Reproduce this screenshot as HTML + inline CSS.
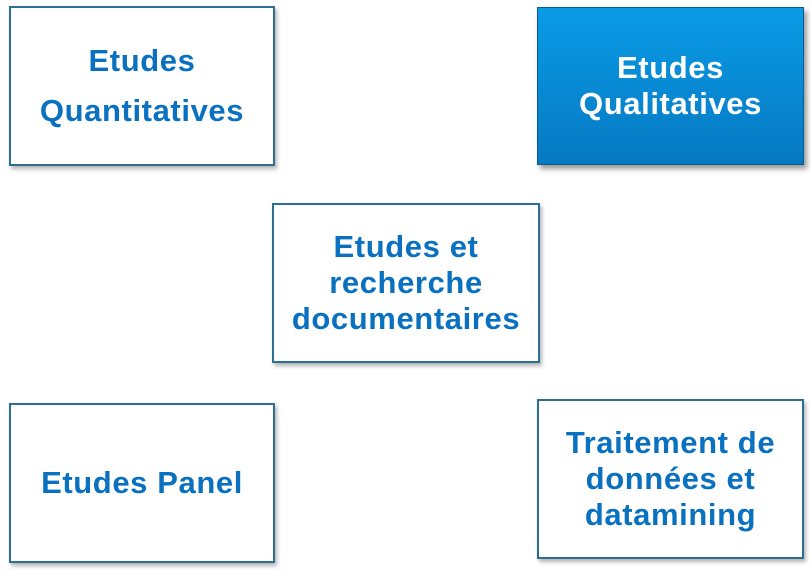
<!DOCTYPE html>
<html><head><style>
body{margin:0;width:811px;height:575px;background:#fff;position:relative;overflow:hidden;font-family:"Liberation Sans",sans-serif;}
.b{position:absolute;box-sizing:border-box;border:2px solid #2b6f95;background:#fff;box-shadow:2px 3px 4px rgba(0,0,0,0.3);display:flex;align-items:center;justify-content:center;text-align:center;color:#0a70c0;font-weight:bold;font-size:31px;line-height:36px;letter-spacing:0.6px}
.q{border:1px solid #0b5a8c;background:linear-gradient(#0a9be6,#0679c2);color:#fff;box-shadow:3px 4px 5px rgba(0,0,0,0.4);}
</style></head><body>
<div class="b" style="left:9px;top:6px;width:266px;height:160px;line-height:50px">Etudes<br>Quantitatives</div>
<div class="q b" style="left:537px;top:7px;width:267px;height:158px;line-height:36px">Etudes<br>Qualitatives</div>
<div class="b" style="left:272px;top:203px;width:268px;height:160px">Etudes et<br>recherche<br>documentaires</div>
<div class="b" style="left:9px;top:403px;width:266px;height:160px">Etudes Panel</div>
<div class="b" style="left:537px;top:399px;width:267px;height:160px">Traitement de<br>données et<br>datamining</div>
</body></html>
